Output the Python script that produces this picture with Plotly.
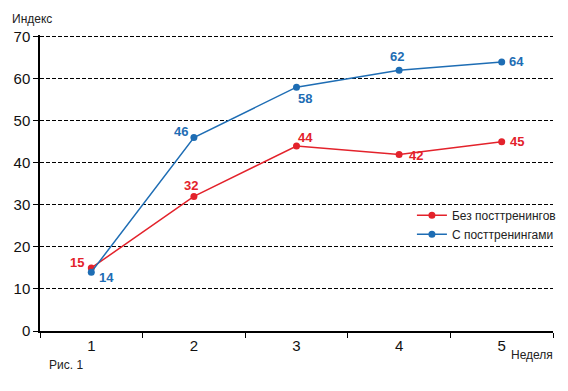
import plotly.graph_objects as go

weeks = ["1", "2", "3", "4", "5"]
without_post = [15, 32, 44, 42, 45]
with_post = [14, 46, 58, 62, 64]
name_without = "Без посттренингов"
name_with = "С посттренингами"

RED = "#e3222b"
BLUE = "#1e6db4"

fig = go.Figure()
fig.add_trace(go.Scatter(x=weeks, y=without_post, name=name_without, mode="lines+markers",
                         line=dict(color=RED, width=1.5), marker=dict(size=7, color=RED)))
fig.add_trace(go.Scatter(x=weeks, y=with_post, name=name_with, mode="lines+markers",
                         line=dict(color=BLUE, width=1.5), marker=dict(size=7, color=BLUE)))

red_off = [(-14, 5), (-3, 11), (9, 9), (17, -1), (15, 0)]
blue_off = [(15, -5), (-13, 6), (8, -11), (-2, 14), (15, 0)]
for vals, offs, col in [(without_post, red_off, RED), (with_post, blue_off, BLUE)]:
    for i, (v, (dx, dy)) in enumerate(zip(vals, offs)):
        fig.add_annotation(x=i, y=v, text=str(v), showarrow=False, xshift=dx, yshift=dy,
                           font=dict(family="Liberation Sans, Arial", size=13, color=col, weight="bold"))

fig.add_annotation(xref="paper", yref="paper", x=-0.059, y=1.024, xanchor="left", yanchor="bottom",
                   text="Индекс", showarrow=False, font=dict(size=12, color="#222"))
fig.add_annotation(xref="paper", yref="paper", x=1.004, y=-0.049, xanchor="right", yanchor="top",
                   text="Неделя", showarrow=False, font=dict(size=12, color="#222"))
fig.add_annotation(xref="paper", yref="paper", x=0.013, y=-0.086, xanchor="left", yanchor="top",
                   text="Рис. 1", showarrow=False,
                   font=dict(family="Liberation Sans Narrow, Arial Narrow, Liberation Sans", size=12, color="#222"))

fig.update_layout(
    width=560, height=383,
    margin=dict(l=32, r=15, t=27, b=60, autoexpand=False),
    paper_bgcolor="white", plot_bgcolor="white",
    font=dict(family="Liberation Sans, Arial", color="#111"),
    showlegend=True,
    legend=dict(x=0.725, y=0.44, xanchor="left", yanchor="top", bgcolor="rgba(255,255,255,0)",
                font=dict(size=12, color="#222")),
    xaxis=dict(type="category", range=[-0.5, 4.5], showgrid=False, showline=True, linecolor="black",
               linewidth=1.5, ticks="outside", tickson="boundaries", ticklen=5, tickcolor="black",
               tickfont=dict(size=15), zeroline=False, automargin=False),
    yaxis=dict(range=[0, 70.4], tickvals=[0, 10, 20, 30, 40, 50, 60, 70], showgrid=True,
               gridcolor="black", griddash="4px,2px", gridwidth=1,
               showline=True, linecolor="black", linewidth=1.5, ticks="outside", ticklen=5,
               tickcolor="black", tickfont=dict(size=15), zeroline=False, automargin=False),
)
fig.write_html("out.html")
